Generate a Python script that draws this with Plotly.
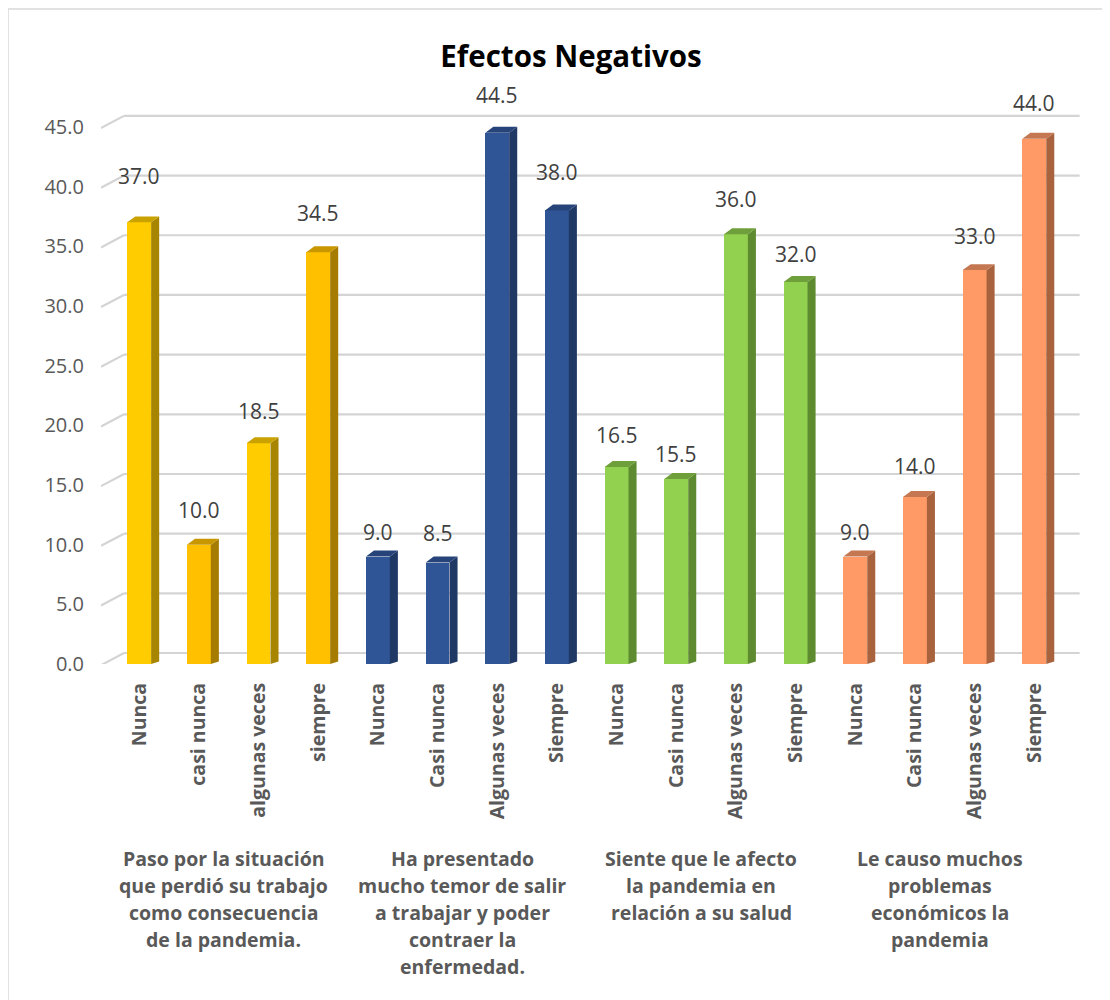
import plotly.graph_objects as go

# ---------------- data ----------------
categories = ["Nunca", "casi nunca", "algunas veces", "siempre",
              "Nunca", "Casi nunca", "Algunas veces", "Siempre",
              "Nunca", "Casi nunca", "Algunas veces", "Siempre",
              "Nunca", "Casi nunca", "Algunas veces", "Siempre"]
values = [37.0, 10.0, 18.5, 34.5,
          9.0, 8.5, 44.5, 38.0,
          16.5, 15.5, 36.0, 32.0,
          9.0, 14.0, 33.0, 44.0]
group_lines = [
    ["Paso por la situación", "que perdió su trabajo", "como consecuencia", "de la pandemia."],
    ["Ha presentado", "mucho temor de salir", "a trabajar y poder", "contraer la", "enfermedad."],
    ["Siente que le afecto", "la pandemia en", "relación a su salud"],
    ["Le causo muchos", "problemas", "económicos la", "pandemia"],
]
y_ticks = [0, 5, 10, 15, 20, 25, 30, 35, 40, 45]
title_text = "Efectos Negativos"

# ---------------- style ----------------
front = ["#FFCC00", "#FFC000", "#FFCC00", "#FFC000"] + ["#2F5597"] * 4 + ["#92D050"] * 4 + ["#FF9966"] * 4
side = ["#A88500", "#A67C00", "#A88500", "#A67C00"] + ["#1F3864"] * 4 + ["#5E8A30"] * 4 + ["#A8633E"] * 4
top = ["#C9A200", "#C89700", "#C9A200", "#C89700"] + ["#26447A"] * 4 + ["#6F9F3B"] * 4 + ["#C47751"] * 4
label_shift = [46, 35, 32, 39, 25, 30, 38, 38, 32, 25, 35, 28, 25, 31, 34, 36]

FONT = "Open Sans"
PAGE_OFF = 8           # body margin of the page
W, H = 1110 - PAGE_OFF, 1000 - PAGE_OFF
PL, PT, PW, PH = 101, 103, 987, 561   # plot area in window pixels
BW = 0.4
DX = 0.135
DY = 0.5
GX0, GX1, GDY = -0.255, 15.76, 0.92
XR = [-0.64, 15.9]
YR = [0, 47]

x = list(range(len(values)))

fig = go.Figure()
fig.add_trace(go.Bar(
    x=x, y=values, width=BW,
    marker=dict(color=front, line=dict(width=0)),
    hoverinfo="y", showlegend=False,
))

shapes = []
for v in y_ticks:
    shapes.append(dict(type="line", xref="x", yref="y", x0=GX0, x1=GX1, y0=v + GDY, y1=v + GDY,
                       line=dict(color="#D4D4D4", width=2.2), layer="below"))
    shapes.append(dict(type="line", xref="x", yref="y", x0=XR[0], x1=GX0, y0=v - 0.1, y1=v + GDY,
                       line=dict(color="#D4D4D4", width=2.2), layer="below"))

for i, v in enumerate(values):
    xl, xr = i - BW / 2, i + BW / 2
    side_path = f"M {xr},0 L {xr},{v} L {xr + DX},{v + DY} L {xr + DX},{DY * 0.4} Z"
    top_path = f"M {xl},{v} L {xr},{v} L {xr + DX},{v + DY} L {xl + DX},{v + DY} Z"
    shapes.append(dict(type="path", xref="x", yref="y", path=side_path,
                       fillcolor=side[i], line=dict(width=0), layer="above"))
    shapes.append(dict(type="path", xref="x", yref="y", path=top_path,
                       fillcolor=top[i], line=dict(width=0), layer="above"))

shapes.append(dict(type="rect", xref="paper", yref="paper",
                   x0=(8 - PL) / PW, x1=(1125 - PL) / PW,
                   y0=((PT + PH) - 1015) / PH, y1=((PT + PH) - 9) / PH,
                   line=dict(color="#D9D9D9", width=1.5), fillcolor="rgba(0,0,0,0)", layer="below"))

annotations = []
for i, v in enumerate(values):
    annotations.append(dict(x=i, y=v, xref="x", yref="y", text=f"{v:.1f}", showarrow=False,
                            yshift=label_shift[i], font=dict(family=FONT, size=21, color="#404040")))

LINE_H = 27
for g, lines in enumerate(group_lines):
    cx = 4 * g + 1.5
    for k, line in enumerate(lines):
        py = 858 + k * LINE_H
        annotations.append(dict(x=cx, xref="x", y=((PT + PH) - py) / PH, yref="paper", text=f"<b>{line}</b>",
                                showarrow=False, xshift=-5, yanchor="middle",
                                font=dict(family=FONT, size=19.5, color="#595959")))

fig.update_layout(
    width=W, height=H,
    margin=dict(l=PL - PAGE_OFF, r=W - (PL - PAGE_OFF) - PW, t=PT - PAGE_OFF, b=H - (PT - PAGE_OFF) - PH),
    paper_bgcolor="white", plot_bgcolor="white",
    title=dict(text=f"<b>{title_text}</b>", x=(571 - PL) / PW, xref="paper", xanchor="center",
               y=1 - (57 - PAGE_OFF) / H, yref="container", yanchor="middle",
               font=dict(family=FONT, size=29.5, color="#000000")),
    xaxis=dict(range=XR, tickmode="array", tickvals=x, ticktext=[f"<b>{c}</b>" for c in categories],
               tickangle=-90, showgrid=False, zeroline=False, showline=False, ticks="",
               ticklabelstandoff=14, tickfont=dict(family=FONT, size=19.5, color="#595959")),
    yaxis=dict(range=YR, tickmode="array", tickvals=y_ticks, ticktext=[f"{t:.1f}" for t in y_ticks],
               showgrid=False, zeroline=False, showline=False, ticks="", ticklabelstandoff=16,
               tickfont=dict(family=FONT, size=20, color="#595959")),
    shapes=shapes, annotations=annotations,
    bargap=0,
)

fig.write_html("out.html")
